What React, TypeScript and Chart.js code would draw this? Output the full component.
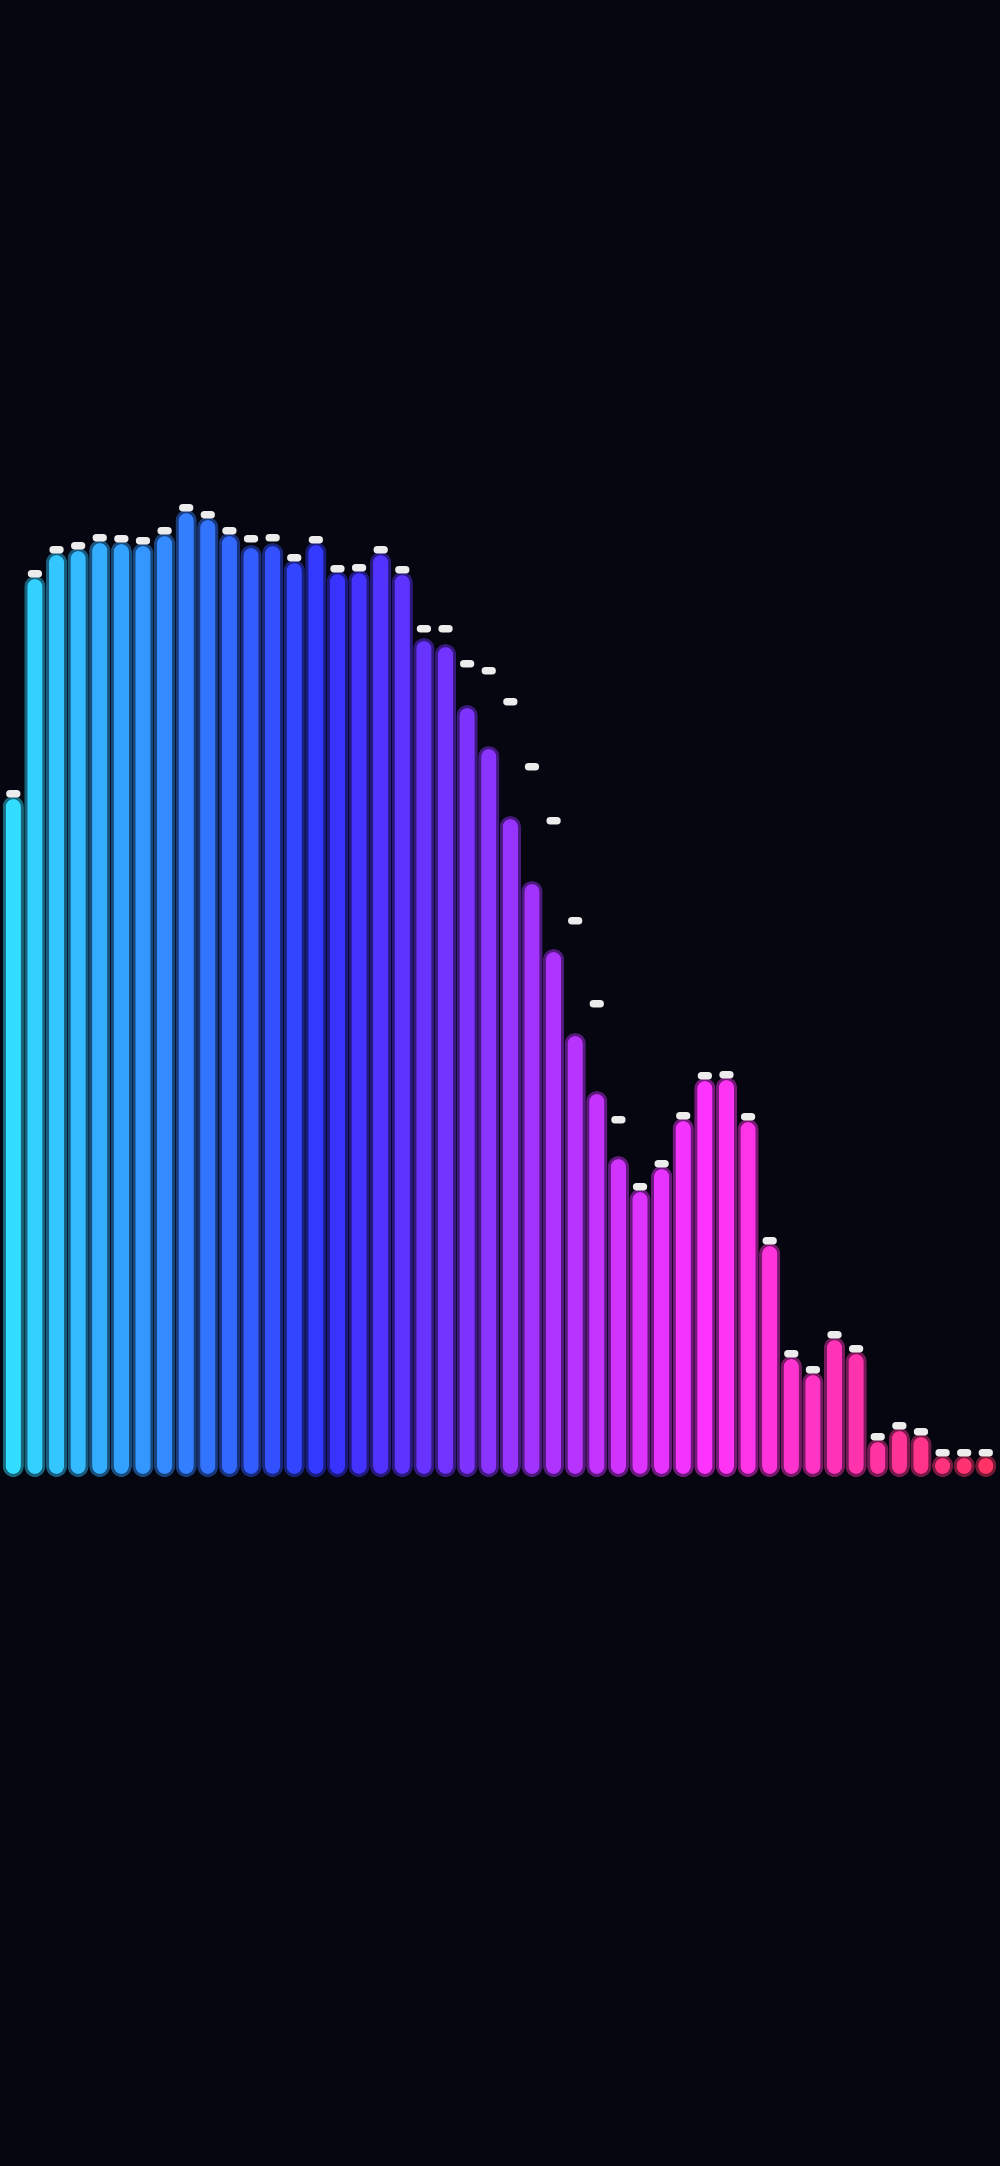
import { useEffect, useRef } from "react";
import { Chart, registerables } from "chart.js";

Chart.register(...registerables);

// spectrum bands, left to right
const bands = [
  "1", "2", "3", "4", "5", "6", "7", "8", "9", "10",
  "11", "12", "13", "14", "15", "16", "17", "18", "19", "20",
  "21", "22", "23", "24", "25", "26", "27", "28", "29", "30",
  "31", "32", "33", "34", "35", "36", "37", "38", "39", "40",
  "41", "42", "43", "44", "45", "46",
];

// current level of each band (0-100)
const levels = [
  68.1, 90.1, 92.5, 92.9, 93.7, 93.6, 93.4, 94.4, 96.7, 96.0,
  94.4, 93.2, 93.4, 91.7, 93.5, 90.6, 90.7, 92.5, 90.5, 83.9,
  83.3, 77.2, 73.1, 66.1, 59.6, 52.8, 44.4, 38.6, 32.1, 28.8,
  31.1, 35.9, 39.9, 40.0, 35.8, 23.4, 12.1, 10.5, 14.0, 12.6,
  3.8, 4.9, 4.3, 2.2, 2.2, 2.2,
];

// peak-hold level of each band
const peaks = [
  68.1, 90.1, 92.5, 92.9, 93.7, 93.6, 93.4, 94.4, 96.7, 96.0,
  94.4, 93.6, 93.7, 91.7, 93.5, 90.6, 90.7, 92.5, 90.5, 84.6,
  84.6, 81.1, 80.4, 77.3, 70.8, 65.4, 55.4, 47.1, 35.5, 28.8,
  31.1, 35.9, 39.9, 40.0, 35.8, 23.4, 12.1, 10.5, 14.0, 12.6,
  3.8, 4.9, 4.3, 2.2, 2.2, 2.2,
];

const BG = "#05060f";

function hue(i: number) {
  return 190 + (i * 155) / (bands.length - 1);
}

export default function App() {
  const canvasRef = useRef<HTMLCanvasElement>(null);
  const chartRef = useRef<Chart | null>(null);

  useEffect(() => {
    document.body.style.margin = "0";
    document.body.style.background = BG;
    if (!canvasRef.current) return;

    const fills = bands.map((_, i) => `hsl(${hue(i)}, 100%, 60%)`);
    const rims = bands.map((_, i) => `hsla(${hue(i)}, 100%, 60%, 0.45)`);

    chartRef.current?.destroy();
    chartRef.current = new Chart(canvasRef.current, {
      type: "bar",
      data: {
        labels: bands,
        datasets: [
          {
            label: "Peak",
            // thin cap sitting on the peak value
            data: peaks.map((p) => [p - 0.15, p + 0.6]) as any,
            backgroundColor: "#ececec",
            borderWidth: 0,
            borderRadius: 4,
            borderSkipped: false,
            barPercentage: 0.66,
            categoryPercentage: 1,
            grouped: false,
            order: 0,
          },
          {
            label: "Level",
            data: levels,
            backgroundColor: fills,
            borderColor: rims,
            borderWidth: 3,
            borderRadius: 12,
            borderSkipped: false,
            barPercentage: 0.985,
            categoryPercentage: 1,
            grouped: false,
            order: 1,
          },
        ],
      },
      options: {
        animation: false,
        responsive: true,
        maintainAspectRatio: false,
        layout: { padding: { top: 477, bottom: 689, left: 2.5, right: 3.4 } },
        plugins: {
          legend: { display: false },
          tooltip: { enabled: false },
        },
        scales: {
          x: { display: false },
          y: { display: false, min: 0, max: 100 },
        },
      },
    });

    return () => {
      chartRef.current?.destroy();
    };
  }, []);

  return (
    <div
      style={{
        position: "absolute",
        top: 0,
        left: 0,
        width: "1000px",
        height: "2166px",
        background: BG,
      }}
    >
      <canvas ref={canvasRef} />
    </div>
  );
}
